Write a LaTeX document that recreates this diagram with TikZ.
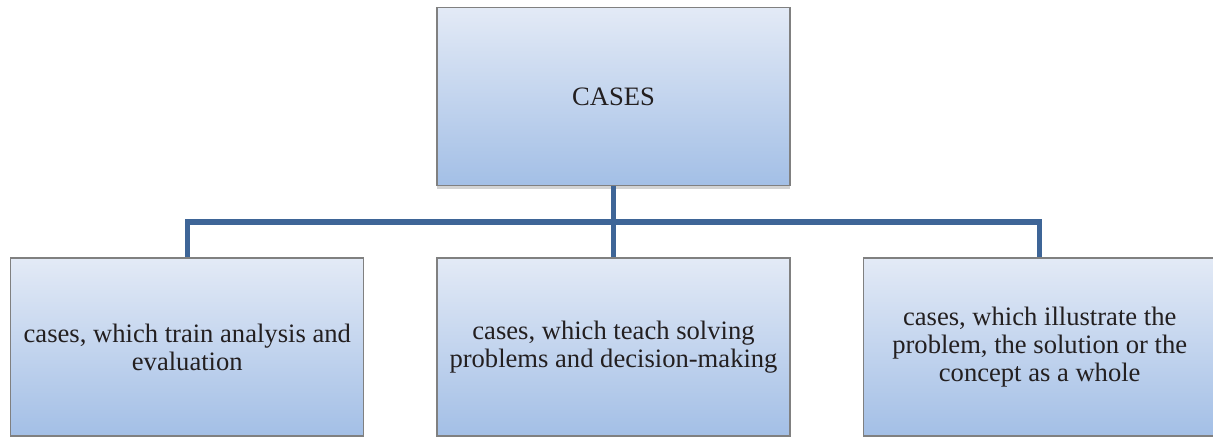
\documentclass[tikz,border=0pt]{standalone}
\usepackage{fontspec}
\setmainfont{Liberation Serif}
\usetikzlibrary{positioning,shadows}

\definecolor{boxtop}{RGB}{227,234,246}
\definecolor{boxbot}{RGB}{163,191,230}
\definecolor{boxline}{RGB}{128,128,128}
\definecolor{linkblue}{RGB}{62,101,151}
\definecolor{textgray}{RGB}{35,31,32}

\tikzset{
  casebox/.style={draw=boxline, line width=0.6pt, top color=boxtop, bottom color=boxbot,
    minimum width=176.5pt, minimum height=89pt, align=center, text=textgray,
    font=\fontsize{13.3}{14}\selectfont,
    drop shadow={shadow xshift=0pt, shadow yshift=-1.5pt, opacity=.35}},
  link/.style={draw=linkblue, line width=2.6pt}
}

\begin{document}
\begin{tikzpicture}[x=0.5pt,y=-0.5pt]
  \useasboundingbox (0,0) rectangle (1213,436);
  \node (cases) [casebox] at (613.5,96.5) {CASES};
  \node (mid) [casebox] at (613.5,347) {cases, which teach solving\\problems and decision-making};
  \node (train) [casebox, left=36pt of mid] {cases, which train analysis and\\evaluation};
  \node (whole) [casebox, right=36pt of mid] {cases, which illustrate the\\problem, the solution or the\\concept as a whole};
  \coordinate (bus) at (613.5,222);
  % connectors
  \draw [link] (cases.south) -- (mid.north);
  \draw [link] (train.north) |- (bus) -| (whole.north);
\end{tikzpicture}
\end{document}
